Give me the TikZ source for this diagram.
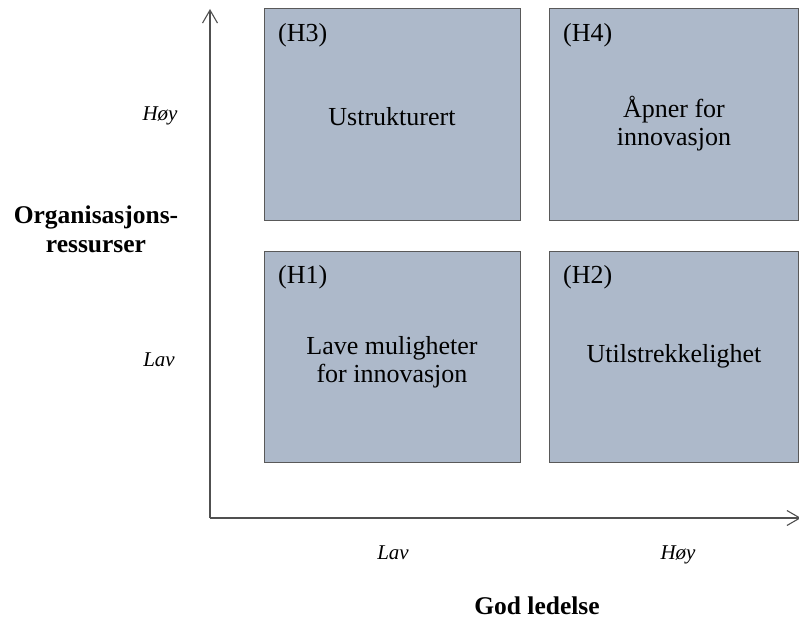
\documentclass[tikz,border=0pt]{standalone}
\usepackage{fontspec}
\setmainfont{Liberation Serif}
\usetikzlibrary{arrows.meta}
\definecolor{boxfill}{HTML}{ADB9CA}
\definecolor{boxline}{HTML}{595959}
\definecolor{axisline}{HTML}{505050}
\begin{document}
\begin{tikzpicture}[x=1pt,y=-1pt,
  quad/.style={draw=boxline, fill=boxfill, line width=1.3pt, inner sep=0pt,
    anchor=north west},
  quadtext/.style={font=\fontsize{26}{28}\selectfont, align=center, inner sep=0pt},
  tag/.style={font=\fontsize{26}{28}\selectfont, inner sep=0pt, anchor=base west},
  level/.style={font=\fontsize{21}{24}\selectfont\itshape, inner sep=0pt, anchor=base},
  axistitle/.style={font=\fontsize{25.5}{29}\selectfont\bfseries, align=center, inner sep=0pt},
  axis/.style={draw=axisline, line width=1.2pt,
    -{Straight Barb[length=13pt,width=15pt,line width=1.1pt]}}]
\useasboundingbox (0,0) rectangle (799,623);

% the four quadrants
\node[quad, minimum width=256pt, minimum height=212pt] (h3) at (264,8) {};
\node[quad, minimum width=249pt, minimum height=212pt] (h4) at (549,8) {};
\node[quad, minimum width=256pt, minimum height=211pt] (h1) at (264,251) {};
\node[quad, minimum width=249pt, minimum height=211pt] (h2) at (549,251) {};

% quadrant tags
\node[tag] (t3) at (278,42) {(H3)};
\node[tag] (t4) at (563,42) {(H4)};
\node[tag] (t1) at (278,283) {(H1)};
\node[tag] (t2) at (563,283) {(H2)};

% quadrant descriptions
\node[quadtext] (d3) at (392,117) {Ustrukturert};
\node[quadtext] (d4) at (674,124) {Åpner for\\innovasjon};
\node[quadtext] (d1) at (392,362) {Lave muligheter\\for innovasjon};
\node[quadtext] (d2) at (674,356) {Utilstrekkelighet};

% axes
\coordinate (o) at (210,518);
\coordinate (ytop) at (210,9);
\coordinate (xend) at (801,518);
\draw[axis] (o) -- (ytop);
\draw[axis] (o) -- (xend);

% axis levels
\node[level] (yhi) at (160,121) {Høy};
\node[level] (ylo) at (159,366) {Lav};
\node[level] (xlo) at (393,559) {Lav};
\node[level] (xhi) at (678,559) {Høy};

% axis titles
\node[axistitle, anchor=base] (xtitle) at (537,614) {God ledelse};
\node[axistitle] (ytitle) at (96,229) {Organisasjons-\\ressurser};
\end{tikzpicture}
\end{document}
